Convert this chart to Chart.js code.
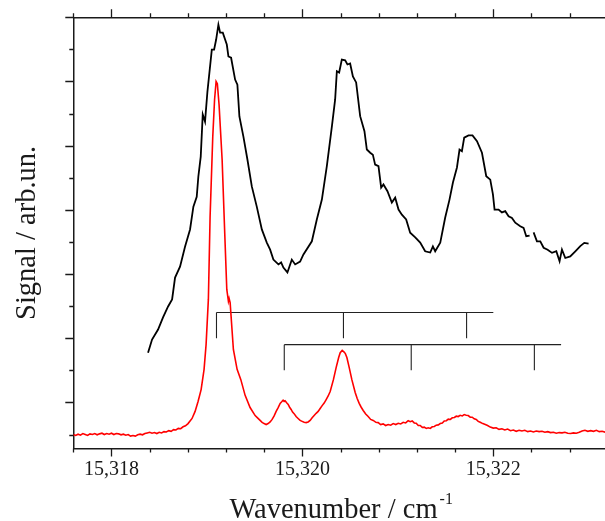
<!DOCTYPE html>
<html>
<head>
<meta charset="utf-8">
<script src="https://cdn.jsdelivr.net/npm/chart.js@4.4.1/dist/chart.umd.min.js"></script>
<style>
    html, body { margin: 0; padding: 0; background: #fff; }
    #wrap { width: 605px; height: 521px; }
</style>
</head>
<body>
<div id="wrap"><canvas id="spectrum" width="605" height="521"></canvas></div>
<script>
// axis ranges (wavenumber / cm-1, signal in arb. units)
const xMin = 15317.6;
const xMax = 15323.17;
const yMin = -0.436;
const yMax = 13.0;

const xTickValues = [15317.6, 15318.0, 15318.4, 15318.8, 15319.2, 15319.6, 15320.0, 15320.4,
    15320.8, 15321.2, 15321.6, 15322.0, 15322.4, 15322.8];
const xLabelValues = [15318, 15320, 15322];
const yTickValues = [0, 1, 2, 3, 4, 5, 6, 7, 8, 9, 10, 11, 12, 13];

// low resolution spectrum (black), [wavenumber, signal]; null = gap in the scan
const blackSpectrum = [
    [15318.383, 2.55], [15318.425, 2.96], [15318.488, 3.27], [15318.540, 3.65], [15318.593, 3.99],
    [15318.635, 4.21], [15318.666, 4.89], [15318.718, 5.23], [15318.771, 5.86], [15318.823, 6.39],
    [15318.858, 7.10], [15318.893, 7.41], [15318.910, 8.04], [15318.935, 8.66], [15318.956, 9.97],
    [15318.980, 9.75], [15319.005, 10.68], [15319.051, 11.99], [15319.075, 11.99], [15319.096, 12.30],
    [15319.120, 12.77], [15319.138, 12.52], [15319.166, 12.52], [15319.208, 12.15], [15319.225, 11.78],
    [15319.253, 11.74], [15319.295, 11.06], [15319.319, 10.90], [15319.340, 9.91], [15319.382, 9.28],
    [15319.424, 8.57], [15319.470, 7.73], [15319.522, 7.10], [15319.575, 6.39], [15319.627, 5.98],
    [15319.662, 5.76], [15319.696, 5.45], [15319.749, 5.30], [15319.777, 5.36], [15319.801, 5.20],
    [15319.843, 5.05], [15319.889, 5.45], [15319.924, 5.30], [15319.976, 5.39], [15320.011, 5.61],
    [15320.099, 6.02], [15320.151, 6.70], [15320.204, 7.32], [15320.256, 8.36], [15320.309, 9.60],
    [15320.343, 10.44], [15320.361, 11.32], [15320.385, 11.28], [15320.413, 11.68], [15320.448, 11.66],
    [15320.472, 11.53], [15320.500, 11.56], [15320.529, 11.16], [15320.563, 10.97], [15320.605, 9.92],
    [15320.650, 9.45], [15320.675, 8.88], [15320.710, 8.78], [15320.738, 8.72], [15320.762, 8.41],
    [15320.797, 8.36], [15320.825, 7.69], [15320.849, 7.79], [15320.891, 7.58], [15320.937, 7.23],
    [15320.972, 7.38], [15321.007, 7.01], [15321.042, 6.85], [15321.087, 6.70], [15321.129, 6.29],
    [15321.182, 6.14], [15321.234, 5.98], [15321.286, 5.71], [15321.339, 5.67], [15321.367, 5.86],
    [15321.391, 5.71], [15321.444, 5.98], [15321.496, 6.76], [15321.541, 7.32], [15321.577, 7.85],
    [15321.619, 8.32], [15321.646, 8.88], [15321.671, 8.83], [15321.695, 9.25], [15321.740, 9.32],
    [15321.782, 9.32], [15321.829, 9.14], [15321.881, 8.78], [15321.926, 8.05], [15321.968, 7.94],
    [15321.996, 7.48], [15322.013, 7.01], [15322.055, 7.01], [15322.090, 6.92], [15322.125, 6.96],
    [15322.160, 6.80], [15322.195, 6.75], [15322.230, 6.60], [15322.282, 6.49], [15322.317, 6.44],
    [15322.345, 6.18], [15322.380, 6.20], [15322.400, null], [15322.422, 6.30], [15322.457, 6.02],
    [15322.492, 6.02], [15322.527, 5.82], [15322.569, 5.76], [15322.615, 5.66], [15322.660, 5.71],
    [15322.694, 5.40], [15322.719, 5.76], [15322.754, 5.50], [15322.806, 5.55], [15322.859, 5.71],
    [15322.911, 5.87], [15322.953, 5.97], [15322.998, 5.95]
];

// high resolution spectrum (red), [wavenumber, signal]
const redSpectrum = [
    [15317.600, 0.00], [15317.625, -0.03], [15317.650, 0.01], [15317.675, -0.02], [15317.700, 0.03],
    [15317.725, 0.00], [15317.750, -0.03], [15317.775, 0.02], [15317.800, 0.00], [15317.825, 0.03],
    [15317.850, -0.01], [15317.875, 0.02], [15317.900, 0.04], [15317.925, 0.00], [15317.950, 0.03],
    [15317.975, 0.01], [15318.000, 0.04], [15318.025, 0.00], [15318.050, 0.03], [15318.075, 0.02],
    [15318.100, -0.01], [15318.125, 0.01], [15318.150, -0.02], [15318.175, 0.00], [15318.200, -0.05],
    [15318.225, -0.03], [15318.250, -0.05], [15318.275, -0.01], [15318.300, 0.01], [15318.325, -0.01],
    [15318.350, 0.03], [15318.375, 0.05], [15318.400, 0.07], [15318.425, 0.04], [15318.450, 0.06],
    [15318.475, 0.03], [15318.500, 0.07], [15318.525, 0.05], [15318.550, 0.09], [15318.575, 0.08],
    [15318.600, 0.12], [15318.625, 0.10], [15318.650, 0.15], [15318.675, 0.14], [15318.700, 0.19],
    [15318.725, 0.18], [15318.750, 0.24], [15318.775, 0.27], [15318.802, 0.34],
    [15318.844, 0.50], [15318.876, 0.72], [15318.907, 1.03], [15318.939, 1.40], [15318.970, 2.03],
    [15318.991, 2.80], [15319.015, 4.21], [15319.033, 6.79], [15319.061, 9.28], [15319.080, 10.44],
    [15319.096, 11.00], [15319.109, 10.93], [15319.127, 10.28], [15319.159, 8.57], [15319.185, 6.39],
    [15319.208, 4.52], [15319.225, 4.15], [15319.232, 4.24], [15319.243, 4.11], [15319.277, 2.65],
    [15319.316, 2.03], [15319.355, 1.71], [15319.400, 1.22], [15319.452, 0.84], [15319.505, 0.59],
    [15319.530, 0.52], [15319.557, 0.44], [15319.578, 0.38], [15319.599, 0.34], [15319.620, 0.31],
    [15319.641, 0.34], [15319.662, 0.39], [15319.683, 0.47], [15319.704, 0.58], [15319.725, 0.72],
    [15319.746, 0.84], [15319.767, 0.97], [15319.783, 1.02], [15319.798, 1.07], [15319.809, 1.03],
    [15319.819, 1.05], [15319.835, 0.99], [15319.851, 0.94], [15319.866, 0.85], [15319.882, 0.78],
    [15319.897, 0.70], [15319.913, 0.65], [15319.934, 0.56], [15319.955, 0.50], [15319.976, 0.44],
    [15319.997, 0.41], [15320.018, 0.38], [15320.039, 0.37], [15320.060, 0.39], [15320.081, 0.44],
    [15320.102, 0.52], [15320.123, 0.59], [15320.144, 0.66], [15320.165, 0.72], [15320.186, 0.81],
    [15320.207, 0.90], [15320.228, 0.98], [15320.249, 1.09], [15320.270, 1.20], [15320.291, 1.34],
    [15320.325, 1.71], [15320.354, 2.09], [15320.380, 2.40], [15320.396, 2.55], [15320.417, 2.62],
    [15320.437, 2.57], [15320.450, 2.52], [15320.466, 2.40], [15320.490, 2.09], [15320.518, 1.71],
    [15320.553, 1.31], [15320.574, 1.12], [15320.595, 0.97], [15320.616, 0.85], [15320.637, 0.75],
    [15320.663, 0.64], [15320.689, 0.56], [15320.715, 0.47], [15320.742, 0.44], [15320.770, 0.38],
    [15320.794, 0.37], [15320.820, 0.31], [15320.846, 0.33], [15320.872, 0.28], [15320.899, 0.31],
    [15320.925, 0.29], [15320.951, 0.34], [15320.978, 0.31], [15321.004, 0.35], [15321.030, 0.33],
    [15321.056, 0.38], [15321.082, 0.36], [15321.108, 0.43], [15321.130, 0.40], [15321.150, 0.42],
    [15321.172, 0.36], [15321.192, 0.35], [15321.214, 0.28], [15321.234, 0.28], [15321.256, 0.22],
    [15321.276, 0.23], [15321.298, 0.19], [15321.318, 0.21], [15321.340, 0.19], [15321.360, 0.24],
    [15321.382, 0.25], [15321.402, 0.29], [15321.424, 0.30], [15321.444, 0.34], [15321.466, 0.36],
    [15321.486, 0.42], [15321.508, 0.43], [15321.528, 0.48], [15321.550, 0.47], [15321.570, 0.52],
    [15321.592, 0.53], [15321.612, 0.57], [15321.632, 0.56], [15321.653, 0.60], [15321.675, 0.58],
    [15321.695, 0.62], [15321.716, 0.60], [15321.737, 0.59], [15321.758, 0.54], [15321.779, 0.54],
    [15321.800, 0.49], [15321.821, 0.47], [15321.842, 0.41], [15321.863, 0.38], [15321.890, 0.34],
    [15321.916, 0.31], [15321.940, 0.28], [15321.968, 0.23], [15322.000, 0.20], [15322.030, 0.21],
    [15322.060, 0.16], [15322.090, 0.18], [15322.120, 0.14], [15322.150, 0.17], [15322.180, 0.12],
    [15322.210, 0.14], [15322.240, 0.10], [15322.270, 0.13], [15322.300, 0.11], [15322.330, 0.13],
    [15322.360, 0.09], [15322.390, 0.11], [15322.420, 0.08], [15322.450, 0.11], [15322.480, 0.09],
    [15322.510, 0.10], [15322.540, 0.07], [15322.570, 0.09], [15322.600, 0.06], [15322.630, 0.07],
    [15322.660, 0.04], [15322.690, 0.06], [15322.720, 0.05], [15322.750, 0.07], [15322.780, 0.04],
    [15322.810, 0.03], [15322.840, 0.05], [15322.870, 0.04], [15322.900, 0.07], [15322.930, 0.11],
    [15322.960, 0.13], [15322.990, 0.10], [15323.020, 0.12], [15323.050, 0.10], [15323.080, 0.13],
    [15323.110, 0.09], [15323.140, 0.10], [15323.173, 0.07]
];

// assignment combs: line positions, end of the bar, bar level, foot of the sticks
const combUpperLines = [15319.10, 15320.43, 15321.72];
const combUpperEnd = 15322.00;
const combUpperLevel = 3.8;
const combUpperFoot = 3.0;
const combLowerLines = [15319.81, 15321.14, 15322.43];
const combLowerEnd = 15322.71;
const combLowerLevel = 2.8;
const combLowerFoot = 2.0;

const axisColor = "#1a1a1a";
const textColor = "#1a1a1a";
const serif = '"Liberation Serif", "Times New Roman", serif';

function toPoints(pairs) {
    return pairs.map(p => ({ x: p[0], y: p[1] }));
}

function combPoints(lines, end, level, foot) {
    const pts = [];
    lines.forEach(x => {
        pts.push({ x: x, y: foot }, { x: x, y: level }, { x: x, y: null });
    });
    pts.push({ x: lines[0], y: level }, { x: end, y: level });
    return pts;
}

function isMajorX(v) {
    return Math.abs(v / 2 - Math.round(v / 2)) < 1e-6;
}

function isMajorY(v) {
    return Math.round(v) % 2 === 1;
}

// outward ticks, long on major and short on minor values
const axisTicks = {
    id: "axisTicks",
    afterDraw(chart) {
        const ctx = chart.ctx;
        const area = chart.chartArea;
        const xs = chart.scales.x;
        const xt = chart.scales.xTop;
        const ys = chart.scales.y;
        ctx.save();
        ctx.strokeStyle = axisColor;
        ctx.lineWidth = 1.3;
        ctx.beginPath();
        xs.ticks.forEach(t => {
            const px = Math.round(xs.getPixelForValue(t.value)) + 0.5;
            const len = isMajorX(t.value) ? 8 : 4;
            ctx.moveTo(px, area.bottom);
            ctx.lineTo(px, area.bottom + len);
        });
        xt.ticks.forEach(t => {
            const px = Math.round(xt.getPixelForValue(t.value)) + 0.5;
            const len = isMajorX(t.value) ? 8 : 4;
            ctx.moveTo(px, area.top);
            ctx.lineTo(px, area.top - len);
        });
        ys.ticks.forEach(t => {
            const py = Math.round(ys.getPixelForValue(t.value)) + 0.5;
            const len = isMajorY(t.value) ? 8 : 4;
            ctx.moveTo(area.left, py);
            ctx.lineTo(area.left - len, py);
        });
        ctx.stroke();
        ctx.restore();
    }
};

// x axis title with superscript
const xTitle = {
    id: "xTitle",
    afterDraw(chart) {
        const ctx = chart.ctx;
        const area = chart.chartArea;
        const main = "Wavenumber / cm";
        const sup = "-1";
        ctx.save();
        ctx.fillStyle = textColor;
        ctx.textBaseline = "alphabetic";
        ctx.textAlign = "left";
        ctx.font = "28.5px " + serif;
        const w1 = ctx.measureText(main).width;
        ctx.font = "16px " + serif;
        const w2 = ctx.measureText(sup).width;
        const x0 = (area.left + area.right) / 2 + 2 - (w1 + w2 + 2) / 2;
        ctx.font = "28.5px " + serif;
        ctx.fillText(main, x0, 518);
        ctx.font = "16px " + serif;
        ctx.fillText(sup, x0 + w1 + 2, 504);
        ctx.restore();
    }
};

const borderOpts = { display: true, color: axisColor, width: 1.5 };
const gridOpts = { display: true, drawOnChartArea: false, drawTicks: false };

const ctx = document.getElementById("spectrum").getContext("2d");
new Chart(ctx, {
    type: "line",
    data: {
        datasets: [
            {
                label: "high resolution",
                data: toPoints(redSpectrum),
                borderColor: "#ff0000",
                borderWidth: 1.6,
                pointRadius: 0,
                tension: 0
            },
            {
                label: "comb upper",
                data: combPoints(combUpperLines, combUpperEnd, combUpperLevel, combUpperFoot),
                borderColor: "#222222",
                borderWidth: 1.1,
                pointRadius: 0,
                spanGaps: false
            },
            {
                label: "comb lower",
                data: combPoints(combLowerLines, combLowerEnd, combLowerLevel, combLowerFoot),
                borderColor: "#222222",
                borderWidth: 1.1,
                pointRadius: 0,
                spanGaps: false
            },
            {
                label: "low resolution",
                data: toPoints(blackSpectrum),
                borderColor: "#000000",
                borderWidth: 1.8,
                pointRadius: 0,
                tension: 0,
                spanGaps: false
            }
        ]
    },
    options: {
        responsive: false,
        animation: false,
        layout: { padding: 0 },
        plugins: { legend: { display: false }, tooltip: { enabled: false } },
        scales: {
            x: {
                type: "linear",
                position: "bottom",
                min: xMin,
                max: xMax,
                afterBuildTicks: s => { s.ticks = xTickValues.map(v => ({ value: v })); },
                afterFit: s => { s.height = 72.5; },
                grid: gridOpts,
                border: borderOpts,
                ticks: {
                    autoSkip: false,
                    maxRotation: 0,
                    padding: 9,
                    color: textColor,
                    font: { family: serif, size: 20 },
                    callback: v => xLabelValues.includes(v) ? v.toLocaleString("en-US") : ""
                }
            },
            xTop: {
                type: "linear",
                position: "top",
                min: xMin,
                max: xMax,
                afterBuildTicks: s => { s.ticks = xTickValues.map(v => ({ value: v })); },
                afterFit: s => { s.height = 17.3; },
                grid: gridOpts,
                border: borderOpts,
                ticks: { display: false }
            },
            y: {
                type: "linear",
                position: "left",
                min: yMin,
                max: yMax,
                afterBuildTicks: s => { s.ticks = yTickValues.map(v => ({ value: v })); },
                afterFit: s => { s.width = 73.3; },
                grid: gridOpts,
                border: borderOpts,
                ticks: { display: false },
                title: {
                    display: true,
                    text: "Signal / arb.un.",
                    color: textColor,
                    font: { family: serif, size: 28.5 },
                    padding: { top: 10, bottom: 0 }
                }
            }
        }
    },
    plugins: [axisTicks, xTitle]
});
</script>
</body>
</html>
